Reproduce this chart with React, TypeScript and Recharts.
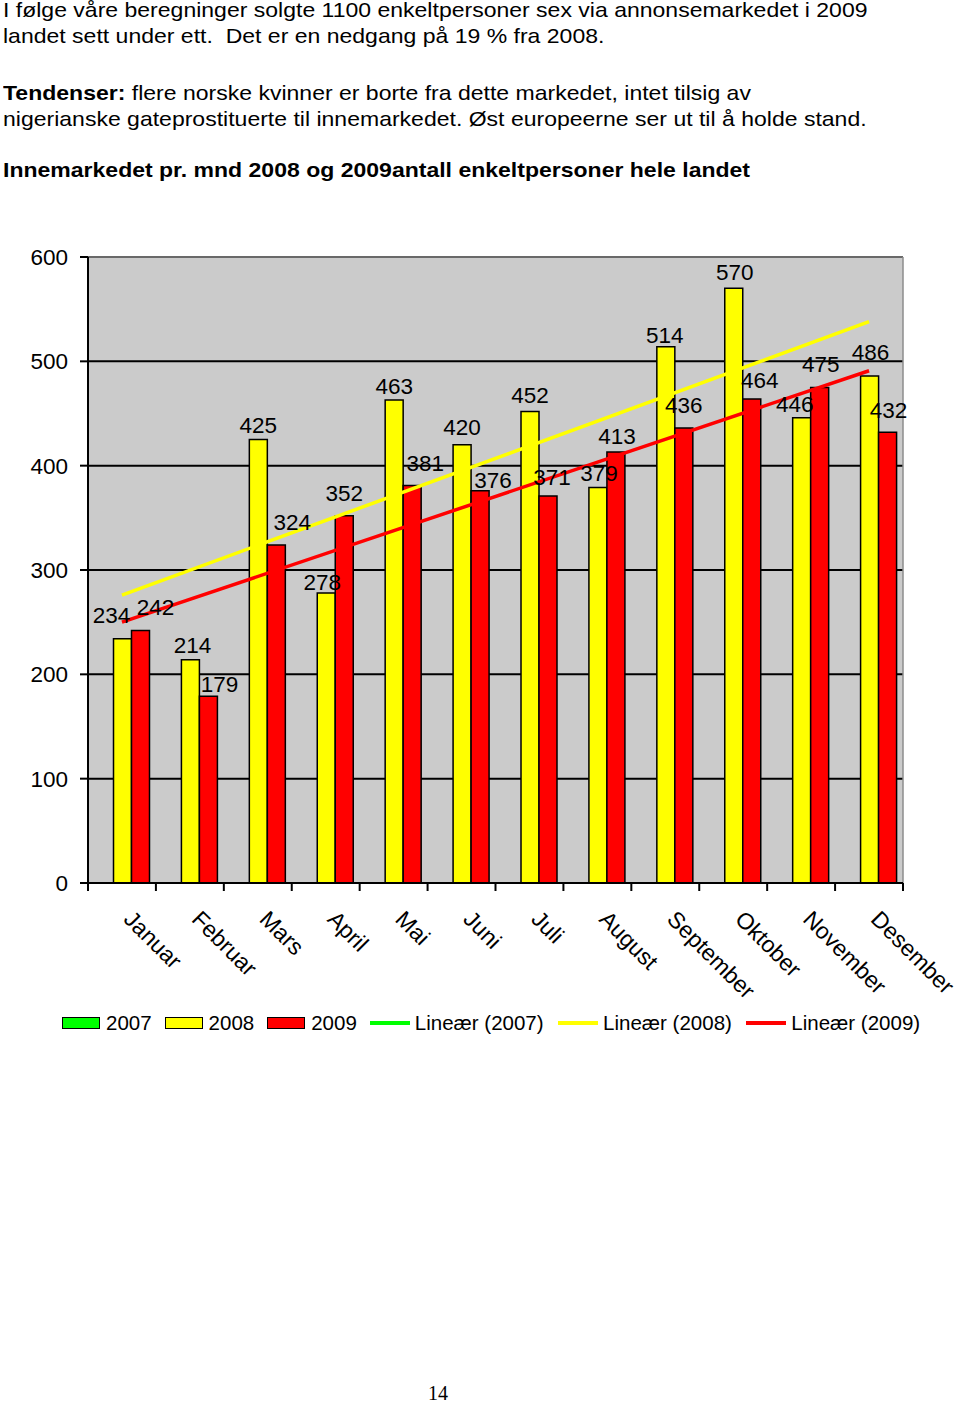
import React from 'react';
import {
  ComposedChart,
  Bar,
  Line,
  XAxis,
  YAxis,
  CartesianGrid,
  LabelList,
  Legend,
  ReferenceLine,
} from 'recharts';

const months = ['Januar', 'Februar', 'Mars', 'April', 'Mai', 'Juni', 'Juli', 'August', 'September', 'Oktober', 'November', 'Desember'];
const values2007: (number | null)[] = [null, null, null, null, null, null, null, null, null, null, null, null];
const values2008 = [234, 214, 425, 278, 463, 420, 452, 379, 514, 570, 446, 486];
const values2009 = [242, 179, 324, 352, 381, 376, 371, 413, 436, 464, 475, 432];
// linear trend lines: value at first (Januar) and last (Desember) month
const trend2007: number[] = [];
const trend2008 = [276, 538];
const trend2009 = [250, 491];
const yTicks = [0, 100, 200, 300, 400, 500, 600];
const seriesNames = ['2007', '2008', '2009', 'Lineær (2007)', 'Lineær (2008)', 'Lineær (2009)'];

// label nudges (styling)
const labelDx2008 = [-11, 2, 0, -4, 0, 0, 0, 1, -1, 1, -7, 1];
const labelDy2008 = [-9, 0, 0, 4, 1, -3, -1, 0, 3, -1, 1, -9];
const labelDx2009 = [15, 11, 16, 0, 13, 13, 4, 1, 0, 8, 1, 1];
const labelDy2009 = [-8.5, 3, -8.5, -8, -7.5, 4, -4, -1.5, -8, -4, -8.5, -7];

const FONT = '"Liberation Sans", Arial, Helvetica, sans-serif';
const VAL_FS = 22.5;
const MONTH_FS = 23;
const LEG_FS = 20.5;
const TITLE_FS = 21;

const trendAt = (t: number[], i: number) =>
  t.length === 2 ? (i === 0 ? t[0] : i === months.length - 1 ? t[1] : null) : null;

const data = months.map((m, i) => ({
  month: m,
  y2007: values2007[i],
  y2008: values2008[i],
  y2009: values2009[i],
  t2007: trendAt(trend2007, i),
  t2008: trendAt(trend2008, i),
  t2009: trendAt(trend2009, i),
}));

const makeLabel = (dxs: number[], dys: number[]) => (props: any) => {
  const { x, y, width, value, index } = props;
  if (value == null) return null;
  const cx = Number(x) + Number(width) / 2 + (dxs[index] ?? 0);
  const cy = Number(y) - 15 + (dys[index] ?? 0);
  return (
    <text x={cx} y={cy + 0.358 * VAL_FS} textAnchor="middle" fontSize={VAL_FS} fontFamily={FONT} fill="#000">
      {value}
    </text>
  );
};

const MonthTick = (props: any) => {
  const { x, y, payload, index, visibleTicksCount } = props;
  const half = payload && typeof payload.offset === 'number' ? payload.offset : 0;
  const isLast = index === (visibleTicksCount ?? months.length) - 1;
  const tx = x + 0.5;
  const ty = y + 37.5;
  return (
    <g>
      <line x1={x - half} x2={x - half} y1={y} y2={y + 8} stroke="#000" strokeWidth={2} />
      {isLast ? <line x1={x + half} x2={x + half} y1={y} y2={y + 8} stroke="#000" strokeWidth={2} /> : null}
      <text
        x={tx}
        y={ty}
        transform={`rotate(45, ${tx}, ${ty})`}
        textAnchor="start"
        fontSize={MONTH_FS}
        fontFamily={FONT}
        fill="#000"
      >
        {payload.value}
      </text>
    </g>
  );
};

const LegendContent = (props: any) => {
  const payload: any[] = props.payload || [];
  const ordered = seriesNames
    .map((n) => payload.find((p) => p.value === n))
    .filter(Boolean);
  return (
    <div style={{ display: 'flex', alignItems: 'center', height: 24, fontFamily: FONT, fontSize: LEG_FS, color: '#000', lineHeight: '24px' }}>
      {ordered.map((p: any) => {
        const isLine = p.type === 'line';
        return (
          <div key={p.value} style={{ display: 'flex', alignItems: 'center', marginRight: isLine ? 14.5 : 13, whiteSpace: 'nowrap' }}>
            {isLine ? (
              <div style={{ width: 40, height: 3.5, background: p.color, marginRight: 5 }} />
            ) : (
              <div style={{ width: 36, height: 10, background: p.color, border: '1.5px solid #000', marginRight: 6 }} />
            )}
            <span>{p.value}</span>
          </div>
        );
      })}
    </div>
  );
};

// line-height 16px -> baseline sits 15.3px below the box top
const titleLine = (baseline: number, content: React.ReactNode) => (
  <div
    style={{
      position: 'absolute',
      left: 3,
      top: baseline - 15.3,
      fontFamily: FONT,
      fontSize: TITLE_FS,
      lineHeight: '16px',
      whiteSpace: 'nowrap',
      color: '#000',
      transform: 'scaleX(1.096)',
      transformOrigin: '0 0',
    }}
  >
    {content}
  </div>
);

export default function App() {
  return (
    <div style={{ position: 'absolute', left: 0, top: 0, width: 960, height: 1400, background: '#fff' }}>
      {titleLine(16.9, 'I følge våre beregninger solgte 1100 enkeltpersoner sex via annonsemarkedet i 2009')}
      {titleLine(43, 'landet sett under ett.\u00a0 Det er en nedgang på 19 % fra 2008.')}
      {titleLine(100, (
        <>
          <b>Tendenser:</b> flere norske kvinner er borte fra dette markedet, intet tilsig av
        </>
      ))}
      {titleLine(126.7, 'nigerianske gateprostituerte til innemarkedet. Øst europeerne ser ut til å holde stand.')}
      {titleLine(177.3, <b>Innemarkedet pr. mnd 2008 og 2009antall enkeltpersoner hele landet</b>)}

      <div style={{ position: 'absolute', left: 0, top: 0 }}>
        <ComposedChart
          width={960}
          height={1100}
          data={data}
          margin={{ top: 257, right: 57, bottom: 216, left: 87 }}
          barCategoryGap={7.5}
          barGap={0}
        >
          <CartesianGrid vertical={false} stroke="#000" strokeWidth={2} fill="#cbcbcb" fillOpacity={1} />
          <XAxis
            dataKey="month"
            height={1}
            interval={0}
            tickSize={0}
            tickMargin={0}
            tickLine={false}
            axisLine={{ stroke: '#000', strokeWidth: 2 }}
            tick={<MonthTick />}
          />
          <YAxis
            width={1}
            domain={[0, 600]}
            ticks={yTicks}
            interval={0}
            tickSize={8}
            tickMargin={12}
            axisLine={{ stroke: '#000', strokeWidth: 2 }}
            tickLine={{ stroke: '#000', strokeWidth: 2 }}
            tick={{ fontSize: VAL_FS, fill: '#000', fontFamily: FONT }}
          />
          <Bar dataKey="y2007" name="2007" fill="#00ff00" stroke="#000" strokeWidth={1.5} isAnimationActive={false} />
          <Bar dataKey="y2008" name="2008" fill="#ffff00" stroke="#000" strokeWidth={1.5} isAnimationActive={false}>
            <LabelList dataKey="y2008" content={makeLabel(labelDx2008, labelDy2008)} />
          </Bar>
          <Bar dataKey="y2009" name="2009" fill="#ff0000" stroke="#000" strokeWidth={1.5} isAnimationActive={false}>
            <LabelList dataKey="y2009" content={makeLabel(labelDx2009, labelDy2009)} />
          </Bar>
          <Line dataKey="t2007" name="Lineær (2007)" stroke="#00ff00" strokeWidth={3.5} dot={false} connectNulls isAnimationActive={false} legendType="line" />
          <Line dataKey="t2008" name="Lineær (2008)" stroke="#ffff00" strokeWidth={3.5} dot={false} connectNulls isAnimationActive={false} legendType="line" />
          <Line dataKey="t2009" name="Lineær (2009)" stroke="#ff0000" strokeWidth={3.5} dot={false} connectNulls isAnimationActive={false} legendType="line" />
          <ReferenceLine y={600} stroke="#8c8c8c" strokeWidth={1.5} />
          <ReferenceLine x={months[months.length - 1]} position="end" stroke="#8c8c8c" strokeWidth={1.5} />
          <Legend
            layout="horizontal"
            verticalAlign="middle"
            align="center"
            content={<LegendContent />}
            wrapperStyle={{ top: 1011, left: 62, width: 890, height: 24 }}
          />
        </ComposedChart>
      </div>

      <div
        style={{
          position: 'absolute',
          left: 428,
          top: 1400 - 13.75,
          fontFamily: '"Liberation Serif", "Times New Roman", serif',
          fontSize: 20,
          lineHeight: '14px',
          color: '#000',
        }}
      >
        14
      </div>
    </div>
  );
}
